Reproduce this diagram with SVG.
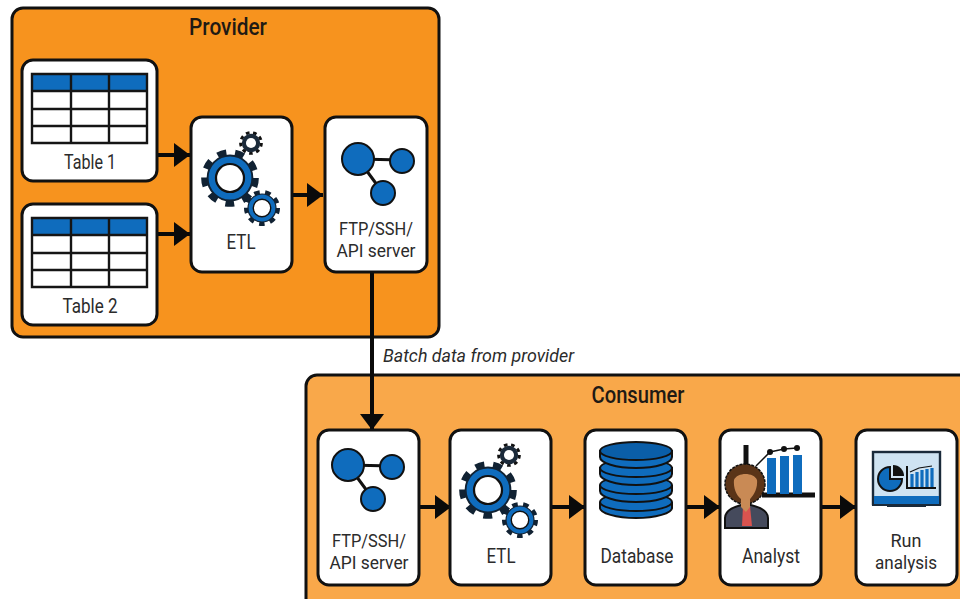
<svg xmlns="http://www.w3.org/2000/svg" xmlns:xlink="http://www.w3.org/1999/xlink" width="960" height="599" viewBox="0 0 960 599">
<style>
.t{font-family:"Roboto","Liberation Sans",sans-serif;font-size:20px;fill:#2b2b2b;text-anchor:middle}
.s{font-family:"Roboto","Liberation Sans",sans-serif;font-size:18px;fill:#2b2b2b;text-anchor:middle}
.h{font-family:"Roboto","Liberation Sans",sans-serif;font-size:23px;font-weight:500;fill:#1f1a14;text-anchor:middle}
.i{font-family:"Roboto","Liberation Sans",sans-serif;font-size:18px;font-style:italic;fill:#2b2b2b}
.box{fill:#fff;stroke:#111;stroke-width:3}
.conn{stroke:#0a0a0a;stroke-width:4;fill:none}
.blue{fill:#0f6cbd;stroke:#111;stroke-width:2}
</style>
<defs>
<marker id="arr" markerUnits="userSpaceOnUse" markerWidth="17" markerHeight="24" refX="16" refY="12" orient="auto"><path d="M0 0L16 12L0 24Z" fill="#0a0a0a"/></marker>
<g id="gearB">
<circle r="9" fill="none" stroke="#123" stroke-width="2.6" stroke-dasharray="3.14 3.14"/>
<circle r="8" fill="#0f6cbd" stroke="#123" stroke-width="0.7"/>
<circle r="5" fill="#fff" stroke="#111" stroke-width="0.8"/>
</g>
<g id="gearD">
<circle r="9" fill="none" stroke="#111" stroke-width="2.6" stroke-dasharray="3.14 3.14"/>
<circle r="8" fill="#1b2a3a"/>
<circle r="4.4" fill="#fff"/>
</g>
<g id="etlIcon">
<use xlink:href="#gearD" transform="translate(251 143) scale(1.15)"/>
<use xlink:href="#gearB" transform="translate(230 178) scale(2.8)"/>
<use xlink:href="#gearB" transform="translate(262 208) scale(1.75)"/>
</g>
<g id="netIcon">
<path d="M358 159L402 160M358 159L383 193" stroke="#111" stroke-width="3" fill="none"/>
<circle class="blue" cx="358" cy="159" r="16"/>
<circle class="blue" cx="402" cy="161" r="12"/>
<circle class="blue" cx="383" cy="193" r="12"/>
</g>
<g id="tableIcon">
<rect x="32" y="74" width="115" height="69" fill="#fff"/>
<rect x="32" y="74" width="115" height="17" fill="#0f6cbd"/>
<path d="M32 74H147V143H32ZM32 91H147M32 109H147M32 126H147M71 74V143M109 74V143" fill="none" stroke="#151515" stroke-width="2.4"/>
</g>
</defs>
<rect width="960" height="599" fill="#fff"/>

<g id="provider">
<rect x="12" y="8" width="427" height="329" rx="11" fill="#f7931e" stroke="#111" stroke-width="3"/>
<text class="h" x="228" y="35" textLength="78" lengthAdjust="spacingAndGlyphs">Provider</text>
</g>
<g id="consumer">
<rect x="306" y="375" width="670" height="240" rx="11" fill="#f9a84a" stroke="#111" stroke-width="3"/>
<text class="h" x="638" y="403" textLength="93" lengthAdjust="spacingAndGlyphs">Consumer</text>
</g>

<g id="connectors">
<path class="conn" d="M157 155H190" marker-end="url(#arr)"/>
<path class="conn" d="M157 234H190" marker-end="url(#arr)"/>
<path class="conn" d="M290 195H323" marker-end="url(#arr)"/>
<path class="conn" d="M372 272V430" marker-end="url(#arr)"/>
<path class="conn" d="M419 507H451" marker-end="url(#arr)"/>
<path class="conn" d="M551 507H585" marker-end="url(#arr)"/>
<path class="conn" d="M686 507H720" marker-end="url(#arr)"/>
<path class="conn" d="M821 507H856" marker-end="url(#arr)"/>
<text class="i" x="383" y="362" textLength="191" lengthAdjust="spacingAndGlyphs">Batch data from provider</text>
</g>

<g id="table1">
<rect class="box" x="22" y="60" width="135" height="121" rx="11"/>
<use xlink:href="#tableIcon"/>
<text class="t" x="90" y="169" textLength="52" lengthAdjust="spacingAndGlyphs">Table 1</text>
</g>
<g id="table2">
<rect class="box" x="22" y="204" width="135" height="121" rx="11"/>
<use xlink:href="#tableIcon" transform="translate(0 144)"/>
<text class="t" x="90" y="313" textLength="55" lengthAdjust="spacingAndGlyphs">Table 2</text>
</g>
<g id="etl1">
<rect class="box" x="191" y="117" width="101" height="155" rx="11"/>
<use xlink:href="#etlIcon"/>
<text class="t" x="241" y="249" textLength="29" lengthAdjust="spacingAndGlyphs">ETL</text>
</g>
<g id="server1">
<rect class="box" x="325" y="117" width="102" height="155" rx="11"/>
<use xlink:href="#netIcon"/>
<text class="s" x="376" y="235" textLength="74" lengthAdjust="spacingAndGlyphs">FTP/SSH/</text>
<text class="s" x="376" y="257" textLength="79" lengthAdjust="spacingAndGlyphs">API server</text>
</g>

<g id="server2">
<rect class="box" x="318" y="430" width="101" height="155" rx="11"/>
<use xlink:href="#netIcon" transform="translate(-10 306)"/>
<text class="s" x="369" y="547" textLength="74" lengthAdjust="spacingAndGlyphs">FTP/SSH/</text>
<text class="s" x="369" y="569" textLength="79" lengthAdjust="spacingAndGlyphs">API server</text>
</g>
<g id="etl2">
<rect class="box" x="450" y="430" width="101" height="155" rx="11"/>
<use xlink:href="#etlIcon" transform="translate(258 312)"/>
<text class="t" x="501" y="563" textLength="29" lengthAdjust="spacingAndGlyphs">ETL</text>
</g>
<g id="database">
<rect class="box" x="585" y="430" width="101" height="155" rx="11"/>
<path class="blue" d="M600 503V508C600 513 616 518 636 518S672 513 672 508V503Z"/>
<ellipse class="blue" cx="636" cy="502" rx="36" ry="9"/>
<path class="blue" d="M600 486V491C600 497 616 502 636 502S672 497 672 491V486Z"/>
<ellipse class="blue" cx="636" cy="485" rx="36" ry="9"/>
<path class="blue" d="M600 468V474C600 480 616 485 636 485S672 480 672 474V468Z"/>
<ellipse class="blue" cx="636" cy="468" rx="36" ry="9"/>
<path class="blue" d="M600 451V457C600 463 616 468 636 468S672 463 672 457V451Z"/>
<ellipse cx="636" cy="451" rx="36" ry="9" fill="#0a5ea8" stroke="#111" stroke-width="2"/>
<text class="t" x="637" y="563" textLength="73" lengthAdjust="spacingAndGlyphs">Database</text>
</g>
<g id="analyst">
<rect class="box" x="720" y="430" width="101" height="155" rx="11"/>
<path d="M746 445V470" stroke="#111" stroke-width="5"/>
<path d="M762 495H815" stroke="#111" stroke-width="5"/>
<rect x="767" y="458" width="9" height="36" fill="#0f6cbd"/>
<rect x="780" y="456" width="9" height="38" fill="#0f6cbd"/>
<rect x="793" y="455" width="9" height="39" fill="#0f6cbd"/>
<path d="M756 466L770 452L784 449L797 448" fill="none" stroke="#111" stroke-width="1.5"/>
<circle cx="770" cy="452" r="3" fill="#111"/><circle cx="784" cy="449" r="3" fill="#111"/><circle cx="797" cy="448" r="3" fill="#111"/>
<path d="M725 528V518C725 510 735 506 746 504C757 506 768 510 768 518V528Z" fill="#454a5c" stroke="#111" stroke-width="2"/>
<path d="M743 506H750L752 526H742Z" fill="#d9534f"/>
<circle cx="745" cy="484" r="20" fill="#5a3418" stroke="#111" stroke-width="1.5" stroke-dasharray="3 1"/>
<path d="M734 480C737 472 754 472 757 480C758 490 752 497 750 499V507L746 512L741 507V499C738 497 733 490 734 480Z" fill="#c98a55"/>
<text class="t" x="771" y="563" textLength="58" lengthAdjust="spacingAndGlyphs">Analyst</text>
</g>
<g id="run">
<rect class="box" x="856" y="430" width="101" height="155" rx="11"/>
<rect x="873" y="452" width="67" height="52" fill="#cfe3f2" stroke="#1a2a3a" stroke-width="2.4"/>
<rect x="874" y="496" width="65" height="8" fill="#0f6cbd"/>
<path d="M887 504H926V507H887Z" fill="#1a2a3a"/>
<path d="M872 505H941" stroke="#1a2a3a" stroke-width="2"/>
<path d="M890 467A12 12 0 1 0 902 479H890Z" fill="#0f6cbd" stroke="#111" stroke-width="2"/>
<path d="M893 465A11 11 0 0 1 904 476H893Z" fill="#111"/>
<path d="M907 466V488H936" fill="none" stroke="#111" stroke-width="2"/>
<path d="M912 474V487M917 472V487M922 470V487M927 469V487M932 468V487" stroke="#0f6cbd" stroke-width="3.2"/>
<path d="M910 472L919 468L932 466" fill="none" stroke="#111" stroke-width="1.2"/>
<text class="s" x="906" y="547" textLength="31" lengthAdjust="spacingAndGlyphs">Run</text>
<text class="s" x="906" y="569" textLength="62" lengthAdjust="spacingAndGlyphs">analysis</text>
</g>
</svg>
